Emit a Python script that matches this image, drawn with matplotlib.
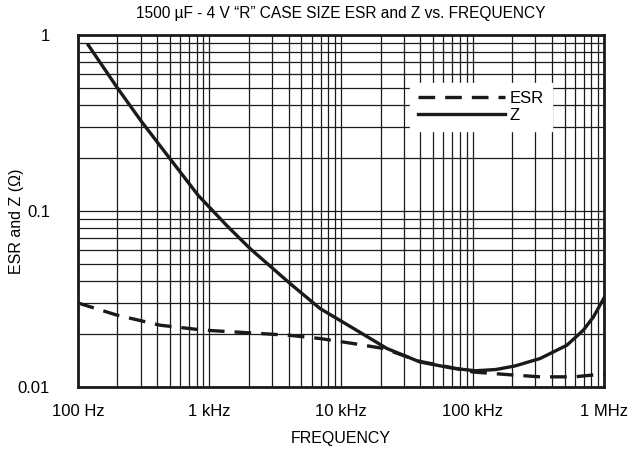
import matplotlib
matplotlib.use("Agg")
import matplotlib.pyplot as plt
from matplotlib.ticker import LogLocator, FixedLocator, NullFormatter

plt.rcParams['font.family'] = ['Liberation Sans', 'DejaVu Sans']

# values (frequency in Hz, ohms)
z_freq = [120, 200, 305, 500, 820, 1350, 2030, 4100, 6920, 12400, 22300,
          39900, 71500, 105000, 150000, 210000, 326000, 520000, 696000, 830000,
          1000000]
z_vals = [0.877, 0.50, 0.322, 0.199, 0.123, 0.083, 0.0614, 0.0388, 0.0280,
          0.0216, 0.0166, 0.0139, 0.0128, 0.0124, 0.0126, 0.0132, 0.01455,
          0.0173, 0.0211, 0.0251, 0.0322]

esr_freq = [100, 197, 421, 897, 1920, 4100, 6920, 12400, 21000, 40000,
            70000, 101000, 182000, 326000, 593000, 1000000]
esr_vals = [0.0301, 0.0257, 0.0225, 0.0211, 0.0204, 0.0197, 0.0189, 0.0177,
            0.0166, 0.0140, 0.0129, 0.0122, 0.0118, 0.01145, 0.01145, 0.0119]

x_ticks = [1e2, 1e3, 1e4, 1e5, 1e6]
x_labels = ["100 Hz", "1 kHz", "10 kHz", "100 kHz", "1 MHz"]
y_ticks = [0.01, 0.1, 1]
y_labels = ["0.01", "0.1", "1"]

fig = plt.figure(figsize=(6.28, 4.55), dpi=100)
ax = fig.add_axes([0.124, 0.149, 0.838, 0.774])

ax.plot(esr_freq, esr_vals, color="#1a1a1a", lw=2.4, dashes=(5, 3), label="ESR")
ax.plot(z_freq, z_vals, color="#1a1a1a", lw=2.4, label="Z")

ax.set_xscale("log")
ax.set_yscale("log")
ax.set_xlim(1e2, 1e6)
ax.set_ylim(0.01, 1)

ax.xaxis.set_major_locator(FixedLocator(x_ticks))
ax.set_xticklabels(x_labels)
ax.yaxis.set_major_locator(FixedLocator(y_ticks))
ax.set_yticklabels(y_labels)
ax.xaxis.set_minor_locator(LogLocator(base=10, subs=range(2, 10)))
ax.yaxis.set_minor_locator(LogLocator(base=10, subs=range(2, 10)))
ax.xaxis.set_minor_formatter(NullFormatter())
ax.yaxis.set_minor_formatter(NullFormatter())
ax.tick_params(which="both", length=0, labelsize=12)
ax.tick_params(axis="x", pad=12)
ax.tick_params(axis="y", pad=20)

ax.grid(True, which="both", color="#1a1a1a", lw=0.9)
for s in ax.spines.values():
    s.set_linewidth(2)
    s.set_color("#1a1a1a")

ax.set_title("1500 \u00b5F - 4 V \u201cR\u201d CASE SIZE ESR and Z vs. FREQUENCY",
             fontsize=11.2, pad=12)
ax.set_xlabel("FREQUENCY", fontsize=11.5)
ax.set_ylabel("ESR and Z (\u03a9)", fontsize=11.5)
ax.xaxis.set_label_coords(0.5, -0.125)
ax.yaxis.set_label_coords(-0.102, 0.47)

leg = ax.legend(loc="upper left", bbox_to_anchor=(0.631, 0.864),
                borderaxespad=0, fontsize=12, handlelength=5.2,
                labelspacing=0.1, handletextpad=0.3, borderpad=0.5,
                fancybox=False, framealpha=1, edgecolor="white")

fig.savefig("out.png", dpi=100)
